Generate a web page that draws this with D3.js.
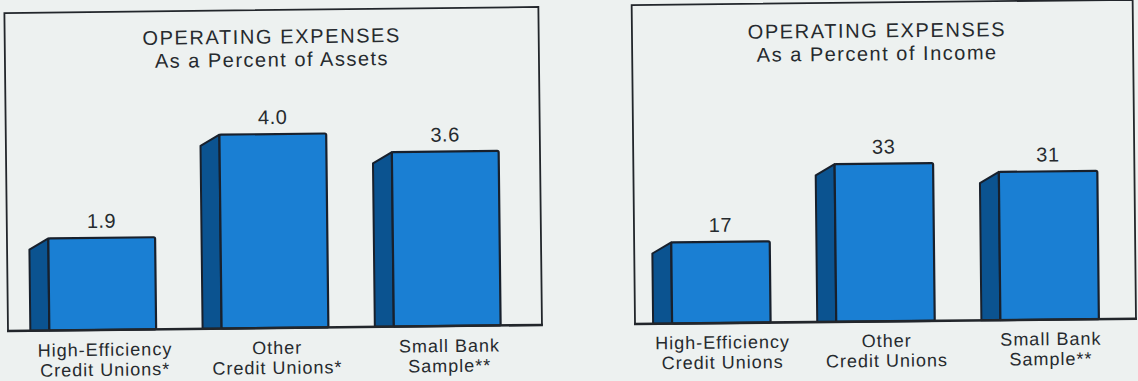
<!DOCTYPE html>
<html>
<head>
<meta charset="utf-8">
<script src="https://cdn.jsdelivr.net/npm/d3@7"></script>
<style>
  html, body { margin: 0; padding: 0; background: #edf1f0; }
  svg { display: block; }
  text { font-family: "Liberation Sans", Arial, Helvetica, sans-serif; fill: #262a2e; }
</style>
</head>
<body>
<svg id="chart" width="1138" height="381"></svg>
<script>
// Operating expense comparison, two panels
const categories = ["High-Efficiency Credit Unions", "Other Credit Unions", "Small Bank Sample"];

const assetsCategoryLines = [["High-Efficiency", "Credit Unions*"], ["Other", "Credit Unions*"], ["Small Bank", "Sample**"]];
const incomeCategoryLines = [["High-Efficiency", "Credit Unions"], ["Other", "Credit Unions"], ["Small Bank", "Sample**"]];

const assetsValues = [1.9, 4.0, 3.6];   // percent of assets
const incomeValues = [17, 33, 31];      // percent of income

const assetsTitle = ["OPERATING EXPENSES", "As a Percent of Assets"];
const incomeTitle = ["OPERATING EXPENSES", "As a Percent of Income"];

const COLORS = {
  front: "#1a7fd3",
  side: "#0b5390",
  outline: "#18202c",
  frame: "#22262b"
};

const svg = d3.select("#chart");

function drawPanel(cfg) {
  const g = svg.append("g")
    .attr("transform", `rotate(${cfg.tilt},${cfg.left},${cfg.bottom})`);

  const x = d3.scaleBand()
    .domain(categories)
    .range([cfg.left, cfg.right])
    .paddingInner(cfg.padInner)
    .paddingOuter(cfg.padOuter);

  const y = d3.scaleLinear()
    .domain([0, cfg.yMax])
    .range([cfg.bottom, cfg.top]);

  const data = categories.map((c, i) => ({ cat: c, value: cfg.values[i], lines: cfg.lines[i] }));

  // frame: left, top, right edges
  g.append("path")
    .attr("d", `M${cfg.left},${cfg.bottom} L${cfg.left},${cfg.top} L${cfg.right},${cfg.top} L${cfg.right},${cfg.bottom}`)
    .attr("fill", "none")
    .attr("stroke", COLORS.frame)
    .attr("stroke-width", 1.8);

  // titles
  g.append("text")
    .attr("x", cfg.titleX).attr("y", cfg.titleY)
    .attr("text-anchor", "middle")
    .style("font-size", "20px").style("letter-spacing", "1.6px")
    .text(cfg.title[0]);
  g.append("text")
    .attr("x", cfg.titleX).attr("y", cfg.titleY + 23)
    .attr("text-anchor", "middle")
    .style("font-size", "20px").style("letter-spacing", "1.5px")
    .text(cfg.title[1]);

  const depthX = 19, depthY = 11;

  const bars = g.selectAll("g.bar").data(data).enter().append("g").attr("class", "bar");

  // side face (left)
  bars.append("path")
    .attr("d", d => {
      const x0 = x(d.cat), yt = y(d.value), yb = y(0);
      return `M${x0},${yb} L${x0 - depthX},${yb} L${x0 - depthX},${yt + depthY} L${x0},${yt} Z`;
    })
    .attr("fill", COLORS.side)
    .attr("stroke", COLORS.outline)
    .attr("stroke-width", 2)
    .attr("stroke-linejoin", "round");

  // front face
  bars.append("rect")
    .attr("x", d => x(d.cat))
    .attr("y", d => y(d.value))
    .attr("width", x.bandwidth())
    .attr("height", d => y(0) - y(d.value))
    .attr("rx", 1.5)
    .attr("fill", COLORS.front)
    .attr("stroke", COLORS.outline)
    .attr("stroke-width", 2.2);

  // value labels
  bars.append("text")
    .attr("x", d => x(d.cat) + x.bandwidth() / 2)
    .attr("y", d => y(d.value) - 10)
    .attr("text-anchor", "middle")
    .style("font-size", "20px").style("letter-spacing", "0.5px")
    .text(d => cfg.fmt(d.value));

  // baseline
  g.append("line")
    .attr("x1", cfg.left - 1).attr("x2", cfg.right + 1)
    .attr("y1", cfg.bottom).attr("y2", cfg.bottom)
    .attr("stroke", COLORS.frame)
    .attr("stroke-width", 2.6);

  // category labels, two lines each
  [0, 1].forEach(line => {
    g.selectAll(`text.cat${line}`).data(data).enter().append("text")
      .attr("class", `cat${line}`)
      .attr("text-anchor", "middle")
      .attr("x", d => x(d.cat) + x.bandwidth() / 2 + cfg.labelShift)
      .attr("y", cfg.bottom + cfg.labelGap + line * 20)
      .style("font-size", "18px").style("letter-spacing", "1px")
      .text(d => d.lines[line]);
  });
}

drawPanel({
  values: assetsValues, lines: assetsCategoryLines, title: assetsTitle,
  fmt: d3.format(".1f"),
  left: 8, right: 542, top: 13, bottom: 331, yMax: 6.56, tilt: -0.65,
  padInner: 0.38, padOuter: 0.24,
  titleX: 275, titleY: 46.5, labelGap: 26, labelShift: 2
});

drawPanel({
  values: incomeValues, lines: incomeCategoryLines, title: incomeTitle,
  fmt: d3.format("d"),
  left: 635, right: 1136, top: 5, bottom: 324, yMax: 66.7, tilt: -0.6,
  padInner: 0.40, padOuter: 0.226,
  titleX: 880, titleY: 40, labelGap: 25.5, labelShift: 1
});
</script>
</body>
</html>
